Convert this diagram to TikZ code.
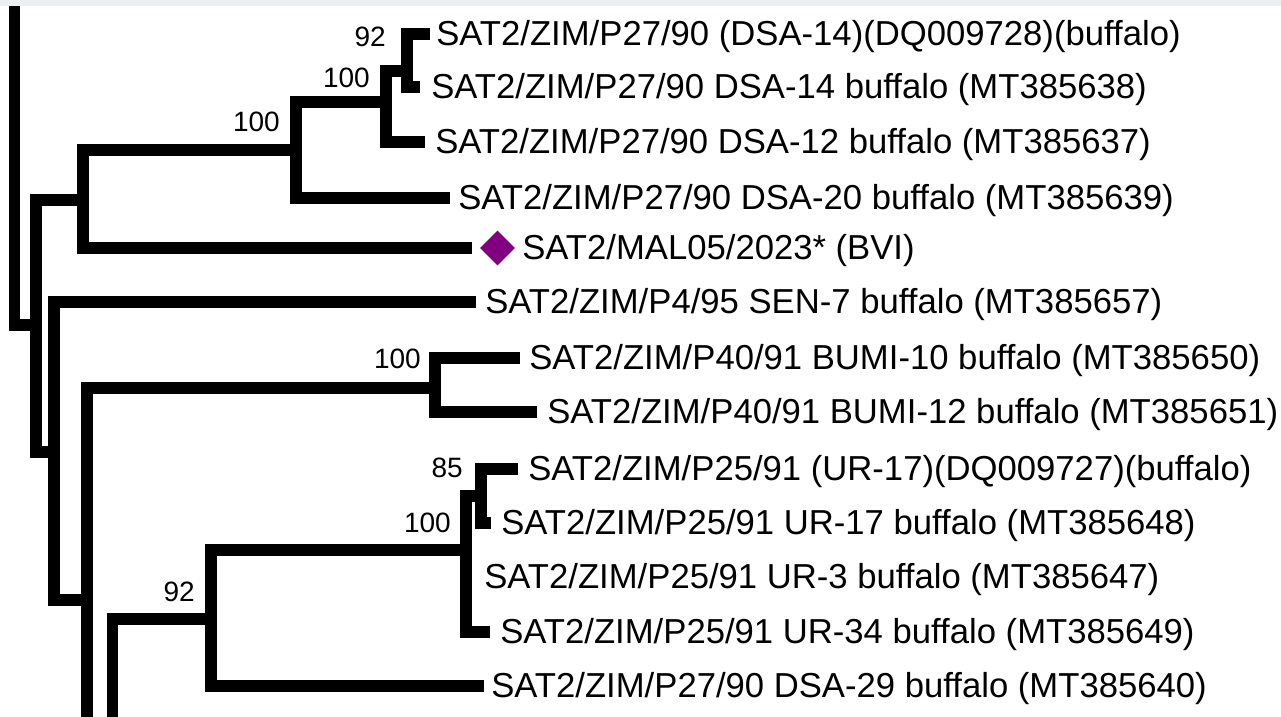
\documentclass[tikz,border=0pt]{standalone}
\usepackage{fontspec}
\setmainfont{Liberation Sans}
\usetikzlibrary{shapes.geometric}
\definecolor{mkpurple}{RGB}{128,0,128}
\definecolor{bandgray}{RGB}{236,238,241}
\begin{document}
\begin{tikzpicture}[x=0.75pt,y=-0.75pt,
  br/.style={line width=8.6pt, line join=miter, line cap=butt},
  leaf/.style={anchor=west, inner sep=0pt, text height=18.6pt, text depth=0pt, font=\fontsize{26.0}{30}\selectfont},
  bs/.style={anchor=east, inner sep=0pt, text height=15pt, text depth=0pt, font=\fontsize{21}{24}\selectfont},
  mark diamond/.style={diamond, fill=mkpurple, minimum width=26.25pt, minimum height=26.25pt, inner sep=0pt}]
\useasboundingbox (0,0) rectangle (1281,717);
\clip (0,0) rectangle (1281,717);
\fill[white] (0,0) rectangle (1281,717);

% internal nodes (vertical line centre, join height)
\coordinate (root) at (14.5,-40);
\coordinate (A) at (36,325);
\coordinate (P) at (83,200);
\coordinate (Q) at (296,150);
\coordinate (R) at (386,102);
\coordinate (S) at (407,71);
\coordinate (B) at (54,452);
\coordinate (C) at (87,600);
\coordinate (E) at (435,388);
\coordinate (D) at (112.5,816);
\coordinate (F) at (211,619);
\coordinate (G) at (466,550);
\coordinate (H) at (481,496);

% leaf bar ends
\coordinate (l1) at (430,34);
\coordinate (l2) at (420,87);
\coordinate (l3) at (425,142);
\coordinate (l4) at (450,198);
\coordinate (l5) at (472,248);
\coordinate (l6) at (476,302);
\coordinate (l7) at (520,358);
\coordinate (l8) at (537,412);
\coordinate (l9) at (518,469);
\coordinate (l10) at (491,523);
\coordinate (l11) at (471,577);
\coordinate (l12) at (490,632);
\coordinate (l13) at (484,686);

% branches
\draw[br] (root) |- (A);
\draw[br] (A) |- (P);
\draw[br] (A) |- (B);
\draw[br] (P) |- (Q);
\draw[br] (P) |- (l5);
\draw[br] (Q) |- (R);
\draw[br] (Q) |- (l4);
\draw[br] (R) |- (S);
\draw[br] (R) |- (l3);
\draw[br] (S) |- (l1);
\draw[br] (S) |- (l2);
\draw[br] (B) |- (l6);
\draw[br] (B) |- (C);
\draw[br] (C) |- (E);
\draw[br] (C) |- (D);
\draw[br] (E) |- (l7);
\draw[br] (E) |- (l8);
\draw[br] (D) |- (F);
\draw[br] (F) |- (G);
\draw[br] (F) |- (l13);
\draw[br] (G) |- (H);
\draw[br] (G) |- (l11);
\draw[br] (G) |- (l12);
\draw[br] (H) |- (l9);
\draw[br] (H) |- (l10);

% leaf labels
\node[leaf] (t1) at (436,33) {SAT2/ZIM/P27/90 (DSA-14)(DQ009728)(buffalo)};
\node[leaf] (t2) at (431,86) {SAT2/ZIM/P27/90 DSA-14 buffalo (MT385638)};
\node[leaf] (t3) at (435,141) {SAT2/ZIM/P27/90 DSA-12 buffalo (MT385637)};
\node[leaf] (t4) at (458,197) {SAT2/ZIM/P27/90 DSA-20 buffalo (MT385639)};
\node[mark diamond] (dm) at (497.5,248) {};
\node[leaf] (t5) at (522,247) {SAT2/MAL05/2023* (BVI)};
\node[leaf] (t6) at (485,301) {SAT2/ZIM/P4/95 SEN-7 buffalo (MT385657)};
\node[leaf] (t7) at (529,357) {SAT2/ZIM/P40/91 BUMI-10 buffalo (MT385650)};
\node[leaf] (t8) at (547,411) {SAT2/ZIM/P40/91 BUMI-12 buffalo (MT385651)};
\node[leaf] (t9) at (528,468) {SAT2/ZIM/P25/91 (UR-17)(DQ009727)(buffalo)};
\node[leaf] (t10) at (501,522) {SAT2/ZIM/P25/91 UR-17 buffalo (MT385648)};
\node[leaf] (t11) at (484,576) {SAT2/ZIM/P25/91 UR-3 buffalo (MT385647)};
\node[leaf] (t12) at (500,631) {SAT2/ZIM/P25/91 UR-34 buffalo (MT385649)};
\node[leaf] (t13) at (491,685) {SAT2/ZIM/P27/90 DSA-29 buffalo (MT385640)};

% bootstrap values
\node[bs] (bS) at (386,37) {92};
\node[bs] (bR) at (370,78) {100};
\node[bs] (bQ) at (280,122) {100};
\node[bs] (bE) at (421,358) {100};
\node[bs] (bH) at (463,467) {85};
\node[bs] (bG) at (451,522) {100};
\node[bs] (bF) at (195,591) {92};

% top band
\fill[bandgray] (0,0) rectangle (1281,6);
\end{tikzpicture}
\end{document}
